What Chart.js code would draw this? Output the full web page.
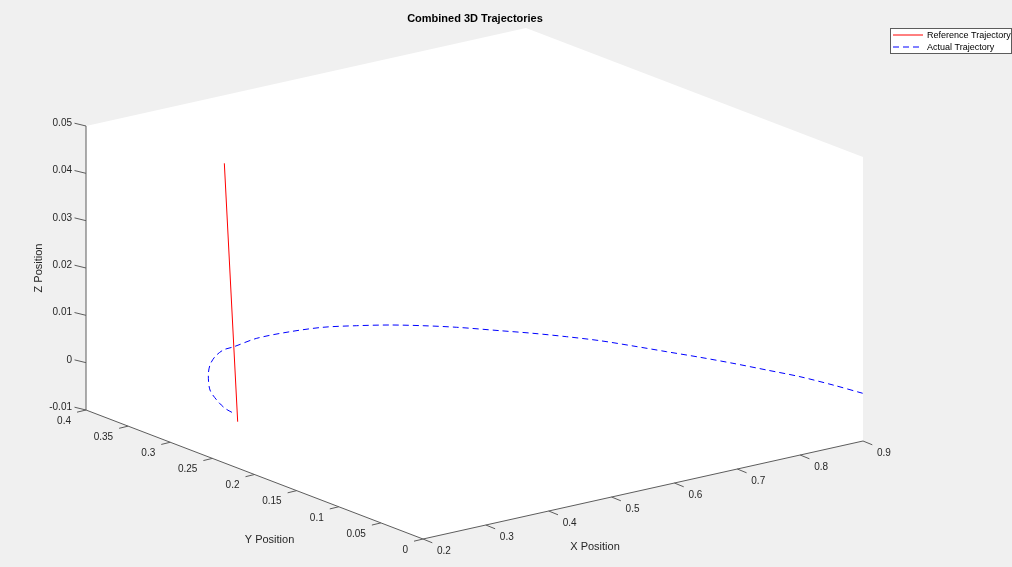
<!DOCTYPE html>
<html><head><meta charset="utf-8">
<script src="https://cdn.jsdelivr.net/npm/chart.js@4/dist/chart.umd.min.js"></script>
<style>html,body{margin:0;padding:0;background:#f0f0f0;overflow:hidden}#wrap{width:1012px;height:567px}canvas{display:block}</style>
</head><body><div id="wrap"><canvas id="c" width="1012" height="567"></canvas></div>
<script>
// ---- data ----
const titleText = "Combined 3D Trajectories";
const seriesNames = ["Reference Trajectory", "Actual Trajectory"];
const axisNames = ["X Position", "Y Position", "Z Position"];
const xTicks = [0.2, 0.3, 0.4, 0.5, 0.6, 0.7, 0.8, 0.9];
const yTicks = [0, 0.05, 0.1, 0.15, 0.2, 0.25, 0.3, 0.35, 0.4];
const zTicks = [-0.01, 0, 0.01, 0.02, 0.03, 0.04, 0.05];
const xTickLabels = ["0.2", "0.3", "0.4", "0.5", "0.6", "0.7", "0.8", "0.9"];
const yTickLabels = ["0", "0.05", "0.1", "0.15", "0.2", "0.25", "0.3", "0.35", "0.4"];
const zTickLabels = ["-0.01", "0", "0.01", "0.02", "0.03", "0.04", "0.05"];
const xLim = [0.2, 0.9];
const yLim = [0, 0.4];
const zLim = [-0.01, 0.05];

const refX = [0.3406, 0.2223];
const refY = [0.3407, 0.2366];
const refZ = [0.042, -0.002];

const actX = [0.9007, 0.8926, 0.8812, 0.8653, 0.8490, 0.8316, 0.8128, 0.7940, 0.7747, 0.7517, 0.7267, 0.7004, 0.6658, 0.6361, 0.6047, 0.5694, 0.5313, 0.4865, 0.4357, 0.3908, 0.3714, 0.3454, 0.3186, 0.2906, 0.2529, 0.2334, 0.2199, 0.2150];
const actY = [0.0009, 0.0301, 0.0608, 0.0884, 0.1163, 0.1425, 0.1680, 0.1939, 0.2187, 0.2410, 0.2624, 0.2819, 0.3075, 0.3253, 0.3411, 0.3543, 0.3659, 0.3716, 0.3732, 0.3667, 0.3649, 0.3554, 0.3413, 0.3224, 0.2923, 0.2698, 0.2499, 0.2343];
const actZ = [0, 0, 0, 0, 0, 0, 0, 0, 0, 0, 0, 0, 0, 0, 0, 0, 0, 0, 0, 0, 0, 0, 0, 0, 0, 0, 0, 0];

// ---- view (orthographic projection of the 3D box) ----
const VIEW = { ox: 423, oy: 539, xv: [440, -98], yv: [-337, -129], zv: [0, -284] };
function proj(x, y, z) {
  const a = (x - xLim[0]) / (xLim[1] - xLim[0]);
  const b = (y - yLim[0]) / (yLim[1] - yLim[0]);
  const c = (z - zLim[0]) / (zLim[1] - zLim[0]);
  return { x: VIEW.ox + a * VIEW.xv[0] + b * VIEW.yv[0] + c * VIEW.zv[0],
           y: VIEW.oy + a * VIEW.xv[1] + b * VIEW.yv[1] + c * VIEW.zv[1] };
}
function series(X, Y, Z) { return X.map((v, i) => proj(v, Y[i], Z[i])); }

const FONT = "'Liberation Sans', Arial, Helvetica, sans-serif";
const TXT = "#262626";
const AXC = "#5c5c5c";

const box3d = {
  id: 'box3d',
  beforeDatasetsDraw(chart) {
    const ctx = chart.ctx, sx = chart.scales.x, sy = chart.scales.y;
    const P = (x, y, z) => { const p = proj(x, y, z); return [sx.getPixelForValue(p.x), sy.getPixelForValue(p.y)]; };
    const [x0, x1] = xLim, [y0, y1] = yLim, [z0, z1] = zLim;
    ctx.save();
    // visible walls (white)
    const hex = [P(x0, y1, z1), P(x1, y1, z1), P(x1, y0, z1), P(x1, y0, z0), P(x0, y0, z0), P(x0, y1, z0)];
    ctx.beginPath();
    hex.forEach((p, i) => i ? ctx.lineTo(p[0], p[1]) : ctx.moveTo(p[0], p[1]));
    ctx.closePath();
    ctx.fillStyle = '#ffffff';
    ctx.fill();
    // axis lines
    ctx.strokeStyle = AXC; ctx.lineWidth = 1;
    const line = (a, b) => { ctx.beginPath(); ctx.moveTo(a[0], a[1]); ctx.lineTo(b[0], b[1]); ctx.stroke(); };
    line(P(x0, y1, z0), P(x0, y1, z1));
    line(P(x0, y1, z0), P(x0, y0, z0));
    line(P(x0, y0, z0), P(x1, y0, z0));
    // ticks + labels
    ctx.font = '10px ' + FONT; ctx.fillStyle = TXT;
    zTicks.forEach((t, i) => {
      const p = P(x0, y1, t);
      line(p, [p[0] - 11.5, p[1] - 2.8]);
      ctx.textAlign = 'right'; ctx.textBaseline = 'middle';
      ctx.fillText(zTickLabels[i], p[0] - 14, p[1] - 2.8);
    });
    yTicks.forEach((t, i) => {
      const p = P(x0, t, z0);
      line(p, [p[0] - 9, p[1] + 2.2]);
      ctx.textAlign = 'right'; ctx.textBaseline = 'middle';
      ctx.fillText(yTickLabels[i], p[0] - 15, p[1] + 11);
    });
    xTicks.forEach((t, i) => {
      const p = P(t, y0, z0);
      line(p, [p[0] + 9.3, p[1] + 3.8]);
      ctx.textAlign = 'left'; ctx.textBaseline = 'middle';
      ctx.fillText(xTickLabels[i], p[0] + 14, p[1] + 12.5);
    });
    // axis labels
    ctx.font = '11px ' + FONT; ctx.textAlign = 'center'; ctx.textBaseline = 'middle';
    const xl = P((x0 + x1) / 2, y0, z0), yl = P(x0, (y0 + y1) / 2, z0), zl = P(x0, y1, (z0 + z1) / 2);
    ctx.fillText(axisNames[0], xl[0] - 48, xl[1] + 57);
    ctx.fillText(axisNames[1], yl[0] + 15, yl[1] + 65);
    ctx.save(); ctx.translate(zl[0] - 47, zl[1]); ctx.rotate(-Math.PI / 2);
    ctx.fillText(axisNames[2], 0, 0); ctx.restore();
    ctx.restore();
  },
  afterDraw(chart) {
    const ctx = chart.ctx;
    ctx.save();
    // title
    ctx.font = 'bold 11px ' + FONT; ctx.fillStyle = '#000'; ctx.textAlign = 'center'; ctx.textBaseline = 'middle';
    ctx.fillText(titleText, 475, 19);
    // legend
    const bx = 890.5, by = 28.5, bw = 121, bh = 25;
    ctx.fillStyle = '#fff'; ctx.fillRect(bx, by, bw, bh);
    ctx.strokeStyle = AXC; ctx.lineWidth = 1; ctx.strokeRect(bx, by, bw, bh);
    ctx.font = '9px ' + FONT; ctx.textAlign = 'left'; ctx.fillStyle = '#000';
    chart.data.datasets.forEach((ds, i) => {
      const yy = 35 + i * 12;
      ctx.strokeStyle = ds.borderColor; ctx.setLineDash(ds.borderDash || []);
      ctx.beginPath(); ctx.moveTo(893, yy); ctx.lineTo(923, yy); ctx.stroke();
      ctx.setLineDash([]);
      ctx.fillText(ds.label, 927, yy + 1);
    });
    ctx.restore();
  }
};

new Chart(document.getElementById('c'), {
  type: 'scatter',
  data: {
    datasets: [
      { label: seriesNames[0], data: series(refX, refY, refZ), showLine: true, borderColor: '#ff0000', borderWidth: 1, pointRadius: 0, fill: false, tension: 0 },
      { label: seriesNames[1], data: series(actX, actY, actZ), showLine: true, borderColor: '#0000ff', borderWidth: 1, borderDash: [6, 4], pointRadius: 0, fill: false, tension: 0.3 }
    ]
  },
  options: {
    responsive: false, animation: false,
    layout: { padding: 0 },
    plugins: { legend: { display: false }, tooltip: { enabled: false }, title: { display: false } },
    scales: {
      x: { type: 'linear', min: 0, max: 1012, display: false },
      y: { type: 'linear', min: 0, max: 567, reverse: true, display: false }
    }
  },
  plugins: [box3d]
});
</script></body></html>
